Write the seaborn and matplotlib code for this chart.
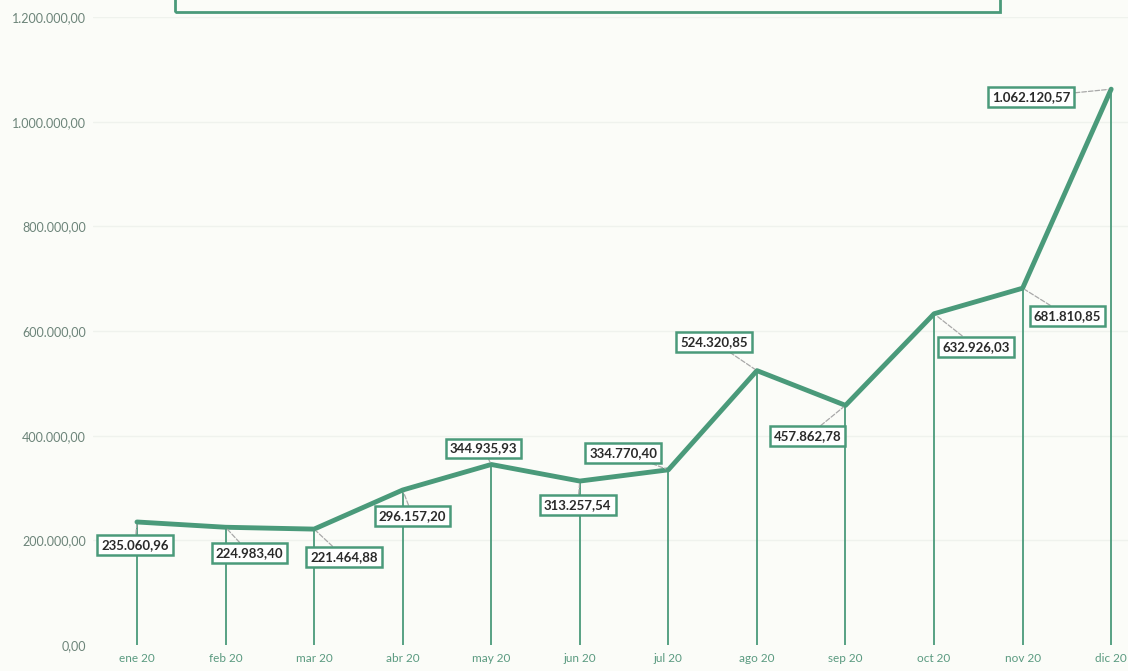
import pandas as pd
import matplotlib.pyplot as plt
import seaborn as sns
from matplotlib.patches import Rectangle

months = ['ene 20', 'feb 20', 'mar 20', 'abr 20', 'may 20', 'jun 20',
          'jul 20', 'ago 20', 'sep 20', 'oct 20', 'nov 20', 'dic 20']
values = [235060.96, 224983.40, 221464.88, 296157.20, 344935.93, 313257.54,
          334770.40, 524320.85, 457862.78, 632926.03, 681810.85, 1062120.57]
value_labels = ['235.060,96', '224.983,40', '221.464,88', '296.157,20', '344.935,93',
                '313.257,54', '334.770,40', '524.320,85', '457.862,78', '632.926,03',
                '681.810,85', '1.062.120,57']
y_ticks = [0, 200000, 400000, 600000, 800000, 1000000, 1200000]
y_tick_labels = ['0,00', '200.000,00', '400.000,00', '600.000,00',
                 '800.000,00', '1.000.000,00', '1.200.000,00']

# label offsets (pixels) relative to each point
offsets = [(-2, -23), (24, -26), (30, -28), (10, -26), (-8, 16), (-2, -24),
           (-45, 17), (-43, 29), (-38, -31), (42, -33), (45, -28), (-80, -8)]

df = pd.DataFrame({'mes': months, 'importe': values})

green = '#4a9a7a'
bg = '#fbfcf8'

sns.set_theme(style='white')
plt.rcParams['font.family'] = ['Lato', 'DejaVu Sans']

fig = plt.figure(figsize=(11.28, 6.71), dpi=100, facecolor=bg)
ax = fig.add_axes([92.7 / 1128, 26 / 671, (1128 - 92.7) / 1128, 628 / 671])
ax.set_facecolor(bg)

# faint gridlines
for t in y_ticks[1:]:
    ax.axhline(t, color='#eff2ed', lw=1, zorder=0)

# drop lines
ax.vlines(range(len(values)), 0, values, color=green, lw=1.3, zorder=1)

sns.lineplot(data=df, x='mes', y='importe', sort=False, color=green,
             linewidth=3.5, ax=ax, zorder=2)

for i, (v, lab) in enumerate(zip(values, value_labels)):
    ax.annotate(lab, xy=(i, v), xytext=offsets[i], textcoords='offset pixels',
                ha='center', va='center', fontsize=9.5, fontweight='bold',
                color='#2a2a2a', zorder=4,
                bbox=dict(boxstyle='square,pad=0.3', fc='white', ec=green, lw=1.8),
                arrowprops=dict(arrowstyle='-', color='#a8a8a8', lw=0.9,
                                linestyle='--', shrinkA=0, shrinkB=2))

ax.set_xlim(-0.5, 11.19)
ax.set_ylim(0, 1200000)
ax.set_yticks(y_ticks)
ax.set_yticklabels(y_tick_labels, fontsize=9, color='#6c8479')
ax.set_xticks(range(len(months)))
ax.set_xticklabels(months, fontsize=8.5, color='#5a9a80')
ax.tick_params(axis='both', length=0, pad=6)
ax.tick_params(axis='y', pad=5)
ax.set_xlabel('')
ax.set_ylabel('')
for s in ax.spines.values():
    s.set_visible(False)

# title box, cut off at the top edge of the picture
fig.patches.append(Rectangle((175 / 1128, (671 - 12) / 671), 825 / 1128, 40 / 671,
                             transform=fig.transFigure, fill=False, ec=green,
                             lw=2, zorder=5))

fig.savefig('out.png', dpi=100, facecolor=bg)
